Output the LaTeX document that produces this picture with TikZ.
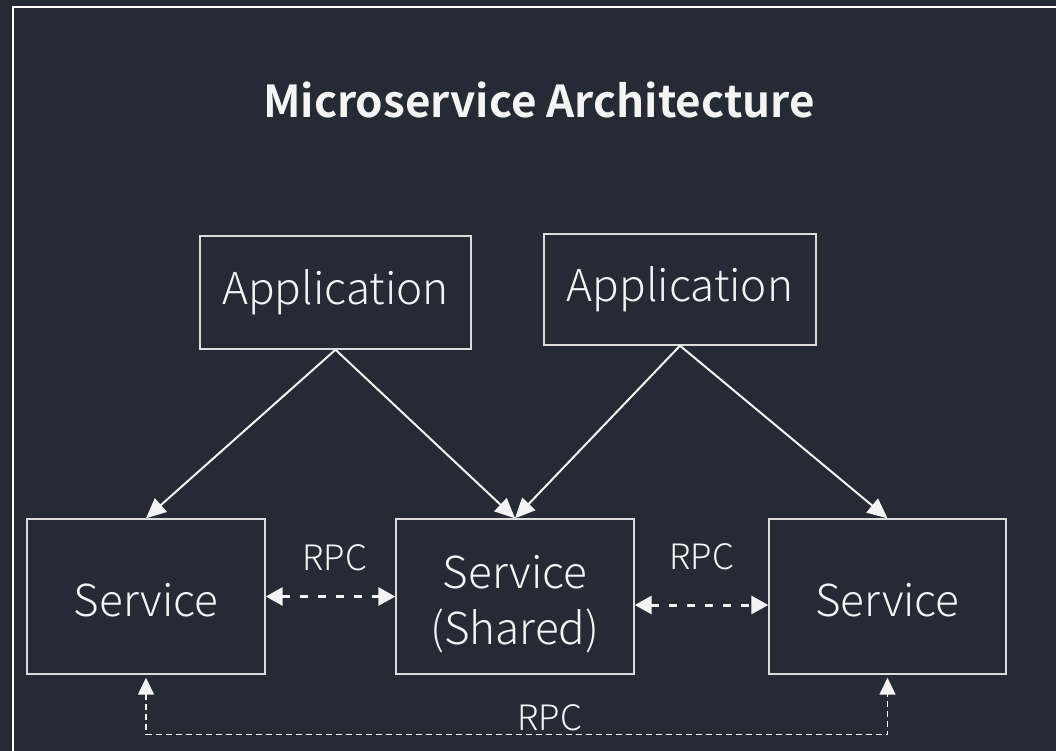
\documentclass[tikz,border=0pt]{standalone}
\usepackage{fontspec}
\setmainfont{Noto Sans CJK SC}[BoldFont={* Bold}]
\newfontfamily\lightf{Noto Sans CJK SC Light}
\usetikzlibrary{arrows.meta,calc}
\definecolor{board}{HTML}{252A35}
\definecolor{edge}{HTML}{DCDCDC}
\definecolor{ink}{HTML}{F4F4F4}
\begin{document}
\begin{tikzpicture}[x=1pt,y=-1pt,
  box/.style={draw=edge, line width=1.4pt, text=ink, align=center, inner sep=0pt, font=\lightf\fontsize{44}{50}\selectfont},
  txt/.style={text=ink, align=center, inner sep=0pt, font=\lightf\fontsize{44}{50}\selectfont},
  flow/.style={draw=ink, line width=2pt, -{Triangle[length=20pt,width=18pt]}},
  rpc/.style={draw=ink, line width=3pt, dash pattern=on 8pt off 10pt, {Triangle[length=17pt,width=18pt]}-{Triangle[length=17pt,width=18pt]}},
  rpcb/.style={draw=ink, line width=1.5pt, dash pattern=on 6pt off 4pt, {Triangle[length=17pt,width=16pt]}-{Triangle[length=17pt,width=16pt]}},
  lbl/.style={text=ink, font=\lightf\fontsize{35}{40}\selectfont, inner sep=0pt}]
\useasboundingbox (0,0) rectangle (1056,751);
\fill[board] (0,0) rectangle (1056,751);
\draw[white, line width=2.5pt] (13,7) rectangle (1075,775);
\node[text=ink, font=\bfseries\fontsize{44}{48}\selectfont] (title) at (539,100) {Microservice Architecture};
\node[box, minimum width=271pt, minimum height=113pt] (app1) at (335.5,292.5) {Application};
\node[box, minimum width=272pt, minimum height=111pt] (app2) at (680,289.5) {Application};
\node[box, minimum width=238pt, minimum height=155pt] (s1) at (146,596.5) {};
\node[box, minimum width=238pt, minimum height=155pt] (s2) at (515,596.5) {};
\node[box, minimum width=237pt, minimum height=155pt] (s3) at (887.5,596.5) {};
\node[txt] (s1t) at (146,600) {Service};
\node[txt] (s2t) at (515,604) {Service\\[6pt](Shared)};
\node[txt] (s3t) at (887.5,600) {Service};
\draw[flow] (app1.south) -- (s1.north);
\draw[flow] (app1.south) -- (s2.north);
\draw[flow] (app2.south) -- (s2.north);
\draw[flow] (app2.south) -- (s3.north);
\draw[rpc] (s1.east) -- (s2.west);
\draw[rpc] ($(s2.east)+(0,8.5)$) -- ($(s3.west)+(0,8.5)$);
\coordinate (b1) at ($(s1.south)+(0,60)$);
\draw[rpcb, shorten <=3pt, shorten >=3pt] (s1.south) -- (b1) -| (s3.south);
\node[lbl] (r1) at (335,558) {RPC};
\node[lbl] (r2) at (702,557) {RPC};
\node[lbl] (r3) at (550,718) {RPC};
\end{tikzpicture}
\end{document}
